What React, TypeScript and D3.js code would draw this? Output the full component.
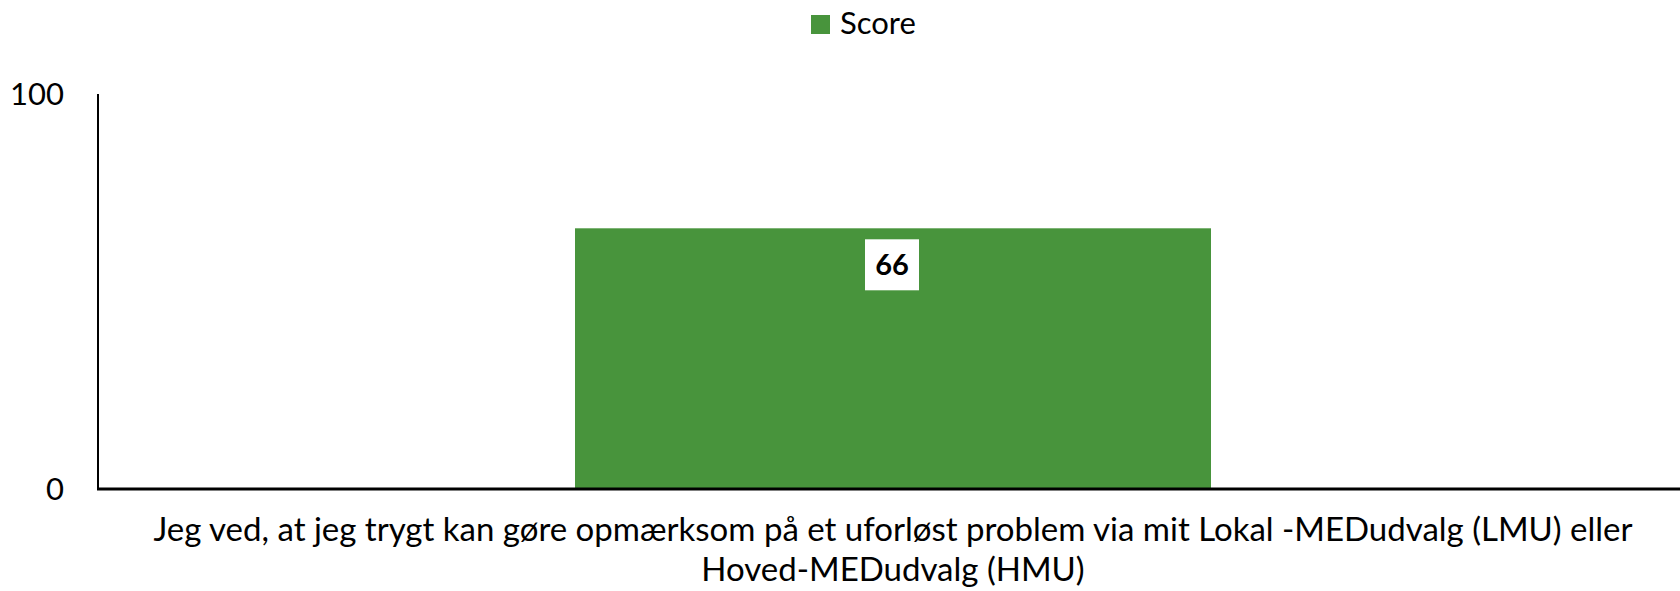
import React, { useEffect, useRef } from "react";
import * as d3 from "d3";

const categories = ["q1"];
const labelLines = [
  "Jeg ved, at jeg trygt kan gøre opmærksom på et uforløst problem via mit Lokal -MEDudvalg (LMU) eller",
  "Hoved-MEDudvalg (HMU)",
];
const scores = [66];
const yTicks = [0, 100];
const seriesName = "Score";

const width = 1680;
const height = 591;
const green = "#48943c";
const font = "Lato, 'Open Sans', sans-serif";

export default function App() {
  const ref = useRef(null);

  useEffect(() => {
    const svg = d3.select(ref.current);
    svg.selectAll("*").remove();

    const x = d3
      .scaleBand()
      .domain(categories)
      .range([98, 1688])
      .paddingInner(0.6)
      .paddingOuter(0.3);
    const y = d3.scaleLinear().domain([0, 100]).range([489, 94]);

    // legend
    const leg = svg.append("g");
    leg
      .append("rect")
      .attr("x", 811)
      .attr("y", 15)
      .attr("width", 19)
      .attr("height", 19)
      .attr("fill", green);
    leg
      .append("text")
      .attr("x", 840)
      .attr("y", 34)
      .attr("font-family", font)
      .attr("font-size", 31)
      .attr("fill", "#000")
      .text(seriesName);

    // bars
    svg
      .append("g")
      .selectAll("rect")
      .data(scores)
      .join("rect")
      .attr("x", (_, i) => x(categories[i])!)
      .attr("y", (d) => y(d))
      .attr("width", x.bandwidth())
      .attr("height", (d) => y(0) - y(d))
      .attr("fill", green);

    // data labels with white box
    const lab = svg
      .append("g")
      .selectAll("g")
      .data(scores)
      .join("g")
      .attr(
        "transform",
        (d, i) => `translate(${x(categories[i])! + x.bandwidth() / 2 - 1},${y(d) + 36})`
      );
    lab
      .append("rect")
      .attr("x", -27)
      .attr("y", -25)
      .attr("width", 54)
      .attr("height", 51)
      .attr("fill", "#fff");
    lab
      .append("text")
      .attr("text-anchor", "middle")
      .attr("y", 11)
      .attr("font-family", font)
      .attr("font-weight", "bold")
      .attr("font-size", 29)
      .attr("fill", "#000")
      .text((d) => d);

    // y axis
    svg
      .append("line")
      .attr("x1", 98)
      .attr("x2", 98)
      .attr("y1", y(100))
      .attr("y2", y(0))
      .attr("stroke", "#000")
      .attr("stroke-width", 2);
    svg
      .append("g")
      .selectAll("text")
      .data(yTicks)
      .join("text")
      .attr("x", 64)
      .attr("y", (d) => y(d))
      .attr("dy", "0.35em")
      .attr("text-anchor", "end")
      .attr("font-family", font)
      .attr("font-size", 31)
      .attr("fill", "#000")
      .text((d) => d);

    // x axis baseline
    svg
      .append("line")
      .attr("x1", 97)
      .attr("x2", width)
      .attr("y1", y(0))
      .attr("y2", y(0))
      .attr("stroke", "#000")
      .attr("stroke-width", 3);

    // category label
    const cx = x(categories[0])! + x.bandwidth() / 2;
    svg
      .append("g")
      .selectAll("text")
      .data(labelLines)
      .join("text")
      .attr("x", cx)
      .attr("y", (_, i) => 541 + i * 40)
      .attr("text-anchor", "middle")
      .attr("font-family", font)
      .attr("font-size", 33)
      .attr("fill", "#000")
      .text((d) => d);
  }, []);

  return (
    <svg
      ref={ref}
      width={width}
      height={height}
      style={{ position: "absolute", left: 0, top: 0, background: "#fff" }}
    />
  );
}
